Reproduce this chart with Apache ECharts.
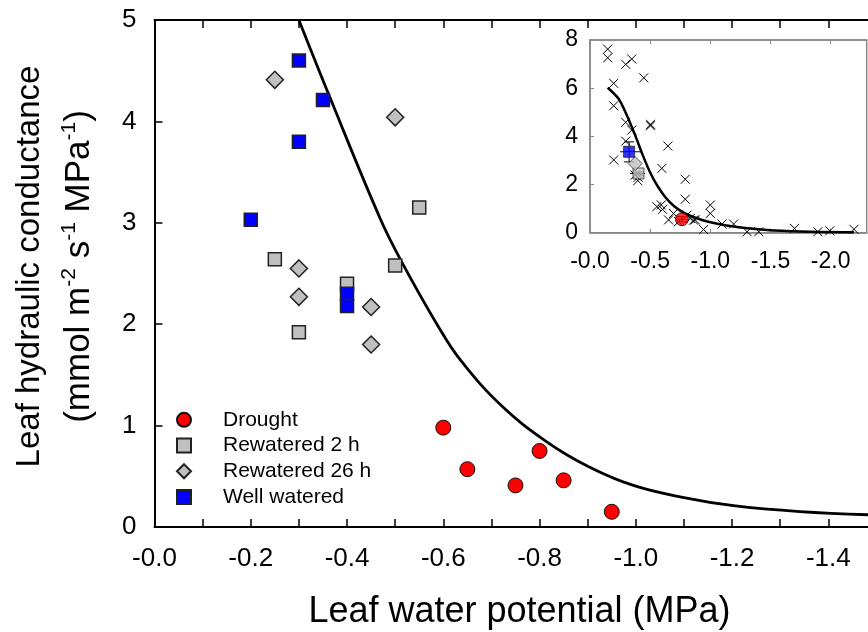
<!DOCTYPE html>
<html>
<head>
<meta charset="utf-8">
<title>Leaf hydraulic conductance</title>
<script src="https://cdn.jsdelivr.net/npm/echarts@6/dist/echarts.min.js"></script>
<style>body{margin:0;background:#fff;}</style>
</head>
<body>
<div id="chart" style="width:868px;height:632px;"></div>
<script>
// main panel: [water potential (MPa), conductance]
var drought = [[-0.60, 0.98], [-0.65, 0.57], [-0.75, 0.41], [-0.80, 0.75], [-0.85, 0.46], [-0.95, 0.15]];
var rewatered2h = [[-0.25, 2.64], [-0.30, 1.92], [-0.40, 2.40], [-0.50, 2.58], [-0.55, 3.15]];
var rewatered26h = [[-0.25, 4.41], [-0.30, 2.55], [-0.30, 2.27], [-0.45, 2.17], [-0.45, 1.80], [-0.50, 4.04]];
var wellWatered = [[-0.20, 3.03], [-0.30, 4.60], [-0.30, 3.80], [-0.35, 4.21], [-0.40, 2.30], [-0.40, 2.18]];

// fitted curve
var fitX = [-0.30, -0.365, -0.469, -0.513, -0.588, -0.635, -0.72, -0.815, -0.90, -0.995, -1.10, -1.203, -1.341, -1.50];
var fitY = [5.0, 4.23, 3.04, 2.62, 1.99, 1.65, 1.20, 0.84, 0.60, 0.41, 0.29, 0.21, 0.152, 0.118];

// inset: literature points (x marks), group means and its fitted curve
var insetPoints = [
    [-0.147, 7.62], [-0.147, 7.26], [-0.297, 6.99], [-0.347, 7.21], [-0.447, 6.43], [-0.197, 6.20],
    [-0.197, 5.27], [-0.297, 4.58], [-0.347, 4.26], [-0.503, 4.50], [-0.503, 4.44], [-0.297, 3.80],
    [-0.647, 3.60], [-0.197, 3.02], [-0.597, 2.67], [-0.792, 2.22], [-0.792, 1.39], [-0.375, 2.39],
    [-0.397, 2.16], [-0.40, 2.30], [-0.556, 1.08], [-0.592, 1.15], [-0.603, 0.97], [-0.653, 0.53],
    [-0.694, 0.80], [-0.736, 0.46], [-0.806, 0.73], [-0.833, 0.59], [-0.861, 0.52], [-0.875, 0.53],
    [-1.0, 1.15], [-1.0, 0.80], [-0.944, 0.13], [-1.097, 0.36], [-1.194, 0.36], [-1.306, 0.04],
    [-1.403, 0.04], [-1.70, 0.18], [-1.894, 0.04], [-1.994, 0.08], [-2.194, 0.14]
];
var insetDrought = [[-0.764, 0.56]];
var insetRew2h = [[-0.403, 2.46]];
var insetRew26h = [[-0.375, 2.87]];
var insetWell = [[-0.325, 3.36]];
// error bars of the inset means: [x, y, xLow, xHigh, yLow, yHigh]
var insetErrors = [
    [-0.325, 3.36, -0.25, -0.43, 2.94, 3.77],
    [-0.403, 2.46, -0.333, -0.458, 2.40, 2.52],
    [-0.764, 0.56, -0.72, -0.81, 0.45, 0.67]
];
var insetFitX = [-0.147, -0.236, -0.306, -0.375, -0.44, -0.50, -0.56, -0.63, -0.70, -0.79, -0.931, -1.069, -1.208, -1.472, -1.75, -2.194];
var insetFitY = [6.02, 5.57, 4.88, 4.05, 3.20, 2.50, 1.95, 1.45, 1.10, 0.80, 0.53, 0.36, 0.25, 0.11, 0.05, 0.02];
var insetXTicks = [0, -0.5, -1.0, -1.5, -2.0];

function zip(xs, ys) {
    var out = [];
    for (var i = 0; i < xs.length; i++) out.push([xs[i], ys[i]]);
    return out;
}
function negLabel(v) {
    return Math.abs(v) < 1e-9 ? '-0.0' : v.toFixed(1);
}

var font = 'Liberation Sans, Arial, sans-serif';
var crossSymbol = 'path://M0,0L10,10M10,0L0,10';

var myChart = echarts.init(document.getElementById('chart'), null, {renderer: 'canvas'});

function renderErrorBar(params, api) {
    var y = api.value(1);
    var x = api.value(0);
    var xl = api.coord([api.value(2), y]);
    var xh = api.coord([api.value(3), y]);
    var yl = api.coord([x, api.value(4)]);
    var yh = api.coord([x, api.value(5)]);
    var cap = 5;
    var style = {stroke: '#000', lineWidth: 1};
    return {
        type: 'group',
        children: [
            {type: 'line', shape: {x1: xl[0], y1: xl[1], x2: xh[0], y2: xh[1]}, style: style},
            {type: 'line', shape: {x1: yl[0], y1: yl[1], x2: yh[0], y2: yh[1]}, style: style},
            {type: 'line', shape: {x1: yl[0] - cap, y1: yl[1], x2: yl[0] + cap, y2: yl[1]}, style: style},
            {type: 'line', shape: {x1: yh[0] - cap, y1: yh[1], x2: yh[0] + cap, y2: yh[1]}, style: style}
        ]
    };
}

var option = {
    animation: false,
    backgroundColor: '#fff',
    textStyle: {fontFamily: font, color: '#000'},
    grid: [
        {left: 154.5, top: 20, width: 722, height: 507, outerBoundsMode: 'none'},
        {left: 590, top: 40, width: 276.7, height: 192.7, outerBoundsMode: 'none',
         show: true, backgroundColor: '#fff', borderColor: '#888', borderWidth: 1.5}
    ],
    legend: {
        orient: 'vertical',
        left: 176,
        top: 407,
        padding: 0,
        itemGap: 0,
        itemWidth: 14,
        itemHeight: 14,
        data: [
            {name: 'Drought', icon: 'circle'},
            {name: 'Rewatered 2 h', icon: 'rect'},
            {name: 'Rewatered 26 h', icon: 'diamond'},
            {name: 'Well watered', icon: 'rect'}
        ],
        textStyle: {fontSize: 21, fontFamily: font, color: '#000', lineHeight: 25.7, padding: [0, 0, 0, 27]}
    },
    xAxis: [{
        gridIndex: 0, type: 'value', min: -1.5, max: 0, interval: 0.1, inverse: true,
        axisLine: {onZero: false, lineStyle: {color: '#000', width: 2}},
        axisTick: {inside: true, length: 8, lineStyle: {color: '#000', width: 1.5}},
        axisLabel: {
            fontSize: 26, fontFamily: font, color: '#000', margin: 19, lineHeight: 26,
            formatter: function (v) {
                var k = Math.round(v * 10);
                return k % 2 === 0 ? negLabel(k / 10) : '';
            }
        },
        splitLine: {show: false},
        name: 'Leaf water potential (MPa)', nameLocation: 'middle', nameGap: 67,
        nameTextStyle: {fontSize: 36, fontFamily: font, color: '#000', lineHeight: 36, padding: [0, 0, 0, 8]}
    }, {
        gridIndex: 0, type: 'value', position: 'top', min: -1.5, max: 0, interval: 0.1, inverse: true,
        axisLine: {onZero: false, lineStyle: {color: '#000', width: 2}},
        axisTick: {inside: true, length: 8, lineStyle: {color: '#000', width: 1.5}},
        axisLabel: {show: false},
        splitLine: {show: false}
    }, {
        gridIndex: 1, type: 'value', min: -2.3, max: 0, inverse: true,
        axisLine: {onZero: false, lineStyle: {color: '#888', width: 1.5}},
        axisTick: {inside: true, length: 4, customValues: insetXTicks, lineStyle: {color: '#888', width: 1}},
        axisLabel: {
            customValues: insetXTicks, fontSize: 23, fontFamily: font, color: '#000', margin: 17, lineHeight: 23,
            formatter: negLabel
        },
        splitLine: {show: false}
    }, {
        gridIndex: 1, type: 'value', position: 'top', min: -2.3, max: 0, inverse: true,
        axisLine: {onZero: false, lineStyle: {color: '#888', width: 1.5}},
        axisTick: {inside: true, length: 4, customValues: insetXTicks, lineStyle: {color: '#888', width: 1}},
        axisLabel: {show: false},
        splitLine: {show: false}
    }],
    yAxis: [{
        gridIndex: 0, type: 'value', min: 0, max: 5, interval: 1,
        axisLine: {onZero: false, lineStyle: {color: '#000', width: 2}},
        axisTick: {inside: true, length: 8, lineStyle: {color: '#000', width: 1.5}},
        axisLabel: {fontSize: 26, fontFamily: font, color: '#000', margin: 18},
        splitLine: {show: false},
        name: '{a|Leaf hydraulic conductance}\n{b|(mmol m}{s|-2}{b| s}{s|-1}{b| MPa}{s|-1}{b|)}',
        nameLocation: 'middle', nameGap: 50, nameRotate: 90,
        nameTextStyle: {
            fontFamily: font, color: '#000', padding: [0, 0, 0, 14],
            rich: {
                a: {fontSize: 33, fontFamily: font, color: '#000', lineHeight: 50},
                b: {fontSize: 35, fontFamily: font, color: '#000', lineHeight: 50},
                s: {fontSize: 21, fontFamily: font, color: '#000', padding: [0, 0, 20, 0]}
            }
        }
    }, {
        gridIndex: 1, type: 'value', min: 0, max: 8, interval: 2,
        axisLine: {onZero: false, lineStyle: {color: '#888', width: 1.5}},
        axisTick: {inside: true, length: 4, lineStyle: {color: '#888', width: 1}},
        axisLabel: {fontSize: 23, fontFamily: font, color: '#000', margin: 12},
        splitLine: {show: false}
    }],
    series: [{
        name: 'fit', type: 'line', xAxisIndex: 0, yAxisIndex: 0,
        data: zip(fitX, fitY), smooth: 0.4, showSymbol: false, silent: true,
        lineStyle: {color: '#000', width: 2.8}, z: 2
    }, {
        name: 'Drought', type: 'scatter', xAxisIndex: 0, yAxisIndex: 0, data: drought,
        symbol: 'circle', symbolSize: 15,
        itemStyle: {color: '#ff0000', borderColor: '#111', borderWidth: 1, opacity: 1}, z: 3
    }, {
        name: 'Rewatered 2 h', type: 'scatter', xAxisIndex: 0, yAxisIndex: 0, data: rewatered2h,
        symbol: 'rect', symbolSize: 13,
        itemStyle: {color: '#c0c0c0', borderColor: '#222', borderWidth: 1.5, opacity: 1}, z: 3
    }, {
        name: 'Rewatered 26 h', type: 'scatter', xAxisIndex: 0, yAxisIndex: 0, data: rewatered26h,
        symbol: 'diamond', symbolSize: 17,
        itemStyle: {color: '#c0c0c0', borderColor: '#222', borderWidth: 1.5, opacity: 1}, z: 3
    }, {
        name: 'Well watered', type: 'scatter', xAxisIndex: 0, yAxisIndex: 0, data: wellWatered,
        symbol: 'rect', symbolSize: 13,
        itemStyle: {color: '#0000ff', borderColor: '#222', borderWidth: 1.5, opacity: 1}, z: 3
    }, {
        name: 'inset points', type: 'scatter', xAxisIndex: 2, yAxisIndex: 1, data: insetPoints,
        symbol: crossSymbol, symbolSize: 9, silent: true,
        itemStyle: {color: 'rgba(0,0,0,0)', borderColor: '#000', borderWidth: 1, opacity: 1}, z: 4
    }, {
        name: 'inset fit', type: 'line', xAxisIndex: 2, yAxisIndex: 1,
        data: zip(insetFitX, insetFitY), smooth: 0.3, showSymbol: false, silent: true,
        lineStyle: {color: '#000', width: 2.5}, z: 4
    }, {
        name: 'inset errors', type: 'custom', xAxisIndex: 2, yAxisIndex: 1, data: insetErrors,
        renderItem: renderErrorBar, silent: true, z: 5
    }, {
        name: 'inset drought', type: 'scatter', xAxisIndex: 2, yAxisIndex: 1, data: insetDrought,
        symbol: 'circle', symbolSize: 13, silent: true,
        itemStyle: {color: '#ff0000', borderColor: '#111', borderWidth: 1}, z: 6
    }, {
        name: 'inset rew2h', type: 'scatter', xAxisIndex: 2, yAxisIndex: 1, data: insetRew2h,
        symbol: 'rect', symbolSize: 11, silent: true,
        itemStyle: {color: '#c0c0c0', borderColor: '#333', borderWidth: 1}, z: 6
    }, {
        name: 'inset rew26h', type: 'scatter', xAxisIndex: 2, yAxisIndex: 1, data: insetRew26h,
        symbol: 'diamond', symbolSize: 14, silent: true,
        itemStyle: {color: '#c0c0c0', borderColor: '#333', borderWidth: 1}, z: 6
    }, {
        name: 'inset well', type: 'scatter', xAxisIndex: 2, yAxisIndex: 1, data: insetWell,
        symbol: 'rect', symbolSize: 11, silent: true,
        itemStyle: {color: '#0000ff', borderColor: '#222', borderWidth: 1}, z: 6
    }]
};

myChart.setOption(option);
</script>
</body>
</html>
